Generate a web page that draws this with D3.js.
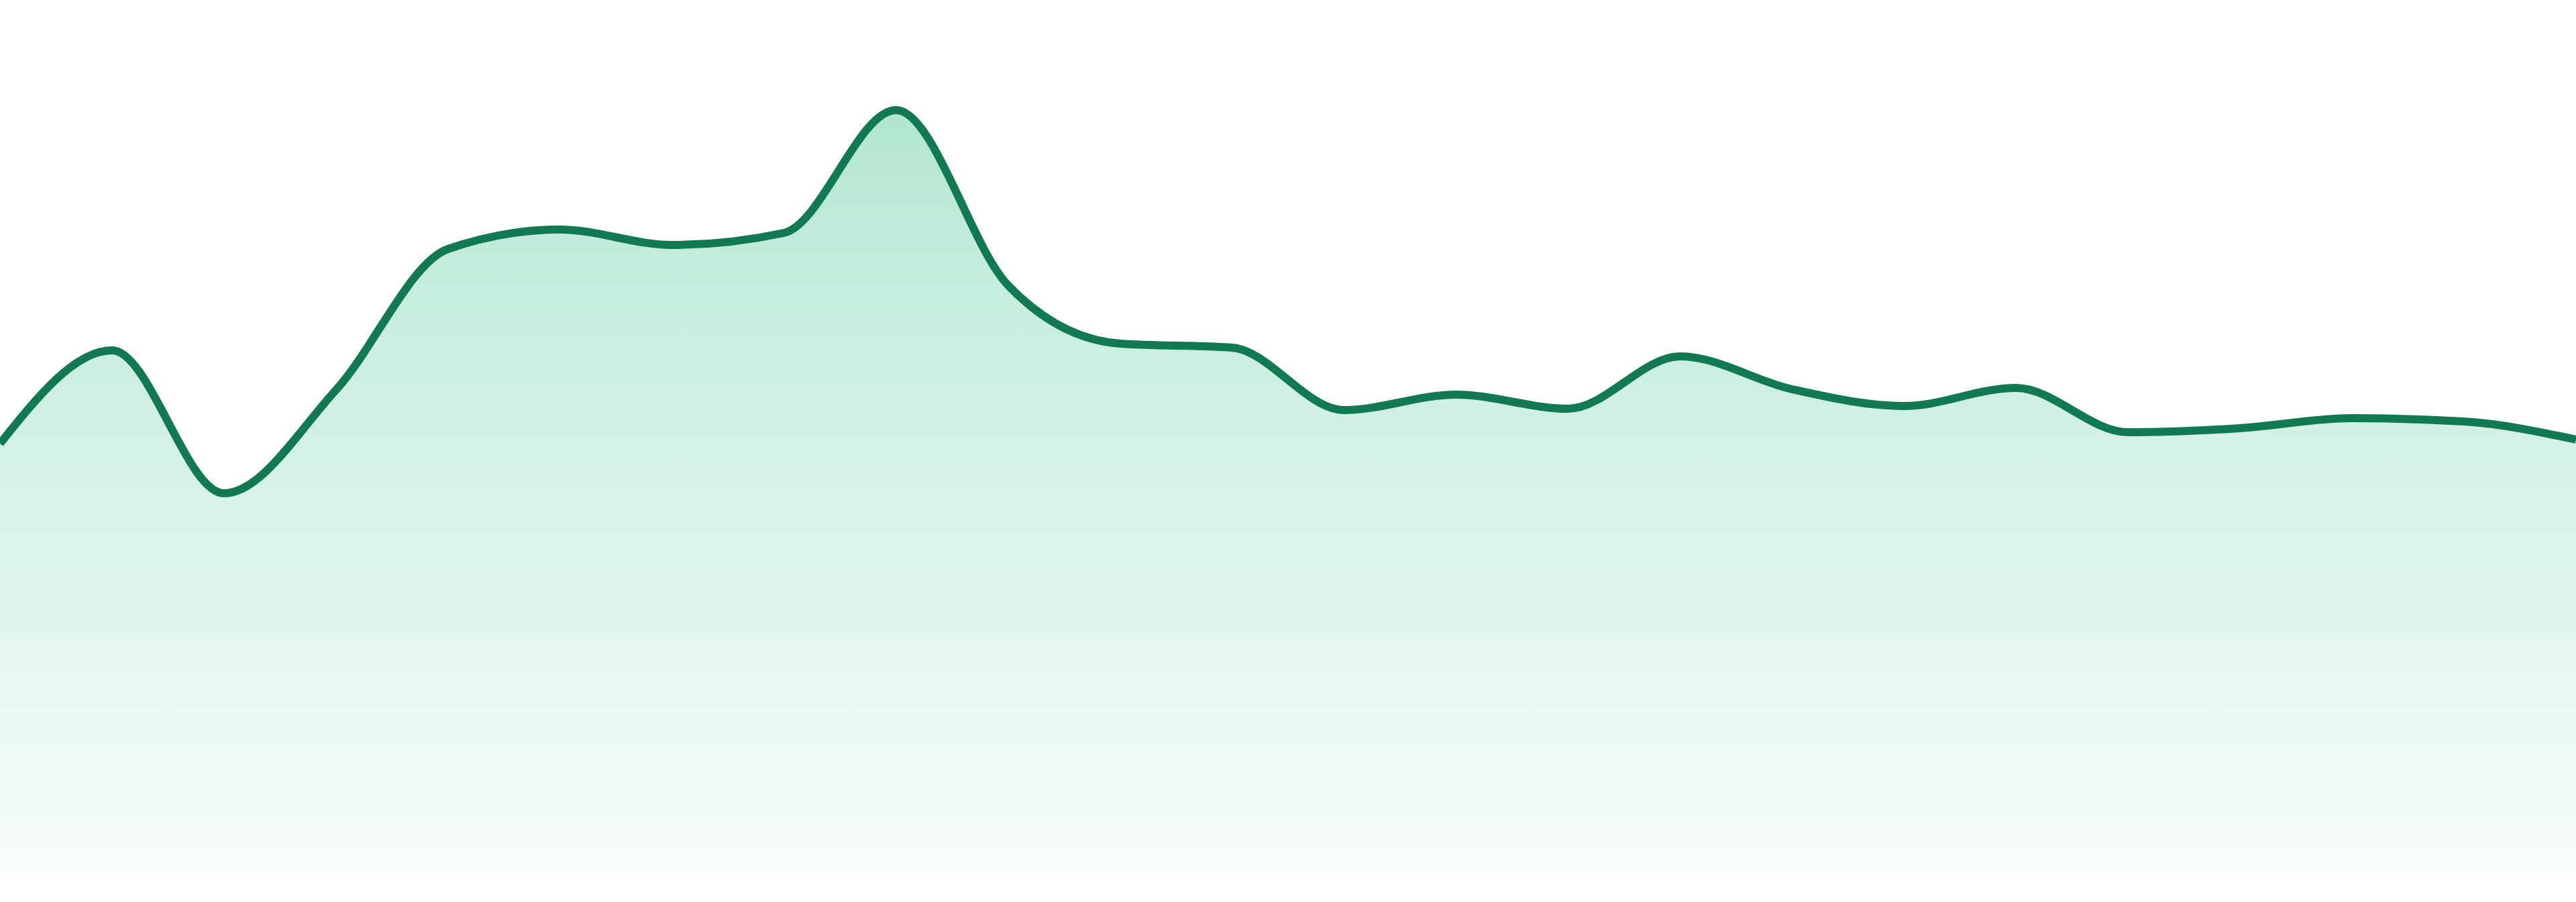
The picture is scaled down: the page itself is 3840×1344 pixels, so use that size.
<!DOCTYPE html>
<html>
<head>
<meta charset="utf-8">
<script src="https://cdn.jsdelivr.net/npm/d3@7"></script>
<style>
  html, body { margin: 0; padding: 0; background: #fff; }
  svg { display: block; }
</style>
</head>
<body>
<div id="chart"></div>
<script>
// data points, evenly spaced along x
const steps = d3.range(24)
const values = [
  64.4, 78.3, 57.0, 72.4, 93.4, 96.3, 94.0, 95.8, 114.1, 88.0, 79.3, 78.7,
  69.4, 71.7, 69.6, 77.4, 72.5, 70.0, 72.7, 66.1, 66.7, 68.2, 67.7, 65.0
]

function draw() {
  const dataset = steps.map((s, i) => ({ step: s, value: values[i] }))

  const xAccessor = (d) => d.step
  const yAccessor = (d) => d.value

  // set dimensions
  let dimensions = {
    width: 3840,
    height: 1344,
    bottom: 1305,
    top: 5
  }

  const svg = d3.select('#chart')
    .append('svg')
    .attr('width', dimensions.width)
    .attr('height', dimensions.height)

  const xScale = d3.scaleLinear()
    .domain(d3.extent(dataset, xAccessor))
    .range([0, dimensions.width])

  const yScale = d3.scaleLinear()
    .domain([0, 130])
    .range([dimensions.bottom, dimensions.top])

  // fading fill
  const grad = svg.append('defs')
    .append('linearGradient')
    .attr('id', 'fill-grad')
    .attr('gradientUnits', 'userSpaceOnUse')
    .attr('x1', 0).attr('x2', 0)
    .attr('y1', yScale(d3.max(values)))
    .attr('y2', dimensions.bottom)
  grad.append('stop').attr('offset', '0%').attr('stop-color', 'rgb(38,185,125)').attr('stop-opacity', 0.36)
  grad.append('stop').attr('offset', '15%').attr('stop-color', 'rgb(38,185,125)').attr('stop-opacity', 0.29)
  grad.append('stop').attr('offset', '100%').attr('stop-color', 'rgb(38,185,125)').attr('stop-opacity', 0.03)

  const area = d3.area()
    .x(d => xScale(xAccessor(d)))
    .y0(dimensions.bottom)
    .y1(d => yScale(yAccessor(d)))
    .curve(d3.curveMonotoneX)

  const line = d3.line()
    .x(d => xScale(xAccessor(d)))
    .y(d => yScale(yAccessor(d)))
    .curve(d3.curveMonotoneX)

  svg.append('path')
    .datum(dataset)
    .attr('d', area)
    .attr('fill', 'url(#fill-grad)')

  svg.append('path')
    .datum(dataset)
    .attr('d', line)
    .attr('fill', 'none')
    .attr('stroke', '#127a52')
    .attr('stroke-width', 12)
    .attr('stroke-linejoin', 'round')
}

draw()
</script>
</body>
</html>
